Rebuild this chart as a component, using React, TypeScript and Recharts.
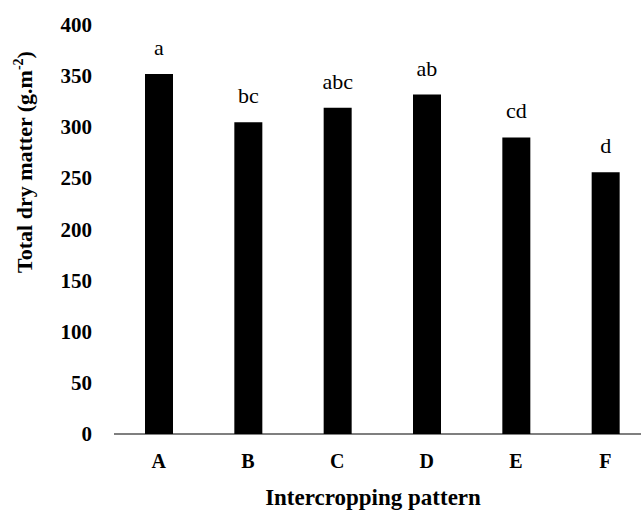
import { BarChart, Bar, XAxis, YAxis, LabelList, Label } from "recharts"

// Intercropping patterns and total dry matter (g.m-2)
const patterns = ["A", "B", "C", "D", "E", "F"]
const dryMatter = [352, 305, 319, 332, 290, 256]
const letters = ["a", "bc", "abc", "ab", "cd", "d"]
const yTicks = [0, 50, 100, 150, 200, 250, 300, 350, 400]

const data = patterns.map((p, i) => ({ name: p, value: dryMatter[i], letter: letters[i] }))

const font = "'Liberation Serif', 'Times New Roman', serif"

const XTick = (props: any) => {
  const { x, y, payload } = props
  return (
    <text x={x} y={y} dy={14} textAnchor="middle" fontFamily={font} fontWeight="bold" fontSize={20} fill="#000">
      {payload.value}
    </text>
  )
}

const YTick = (props: any) => {
  const { x, y, payload } = props
  return (
    <text x={x} y={y} dy={7} textAnchor="end" fontFamily={font} fontWeight="bold" fontSize={21} fill="#000">
      {payload.value}
    </text>
  )
}

const LetterLabel = (props: any) => {
  const { x, y, width, value } = props
  return (
    <text x={x + width / 2} y={y - 19} textAnchor="middle" fontFamily={font} fontSize={22} fill="#000">
      {value}
    </text>
  )
}

export default function App() {
  return (
    <div
      style={{
        position: "absolute",
        left: 0,
        top: 0,
        width: 641,
        height: 512,
        overflow: "hidden",
        background: "#fff",
      }}
    >
      <BarChart width={660} height={512} data={data} margin={{ top: 25, right: 10, left: 0, bottom: 18 }}>
        <XAxis
          dataKey="name"
          height={60}
          tickLine={false}
          tickMargin={14}
          axisLine={{ stroke: "#000", strokeWidth: 1.2 }}
          tick={<XTick />}
        >
          <Label
            content={() => (
              <text x={373} y={505} textAnchor="middle" fontFamily={font} fontWeight="bold" fontSize={23} fill="#000">
                Intercropping pattern
              </text>
            )}
          />
        </XAxis>
        <YAxis
          width={114}
          domain={[0, 400]}
          ticks={yTicks}
          axisLine={false}
          tickLine={false}
          tickMargin={16}
          tick={<YTick />}
        >
          <Label
            content={() => (
              <text
                transform="translate(32, 162) rotate(-90)"
                textAnchor="middle"
                fontFamily={font}
                fontWeight="bold"
                fontSize={22}
                fill="#000"
              >
                Total dry matter (g.m
                <tspan fontSize={14} dy={-9}>
                  -2
                </tspan>
                <tspan dy={9}>)</tspan>
              </text>
            )}
          />
        </YAxis>
        <Bar dataKey="value" fill="#000" barSize={28} isAnimationActive={false}>
          <LabelList dataKey="letter" content={<LetterLabel />} />
        </Bar>
      </BarChart>
    </div>
  )
}
